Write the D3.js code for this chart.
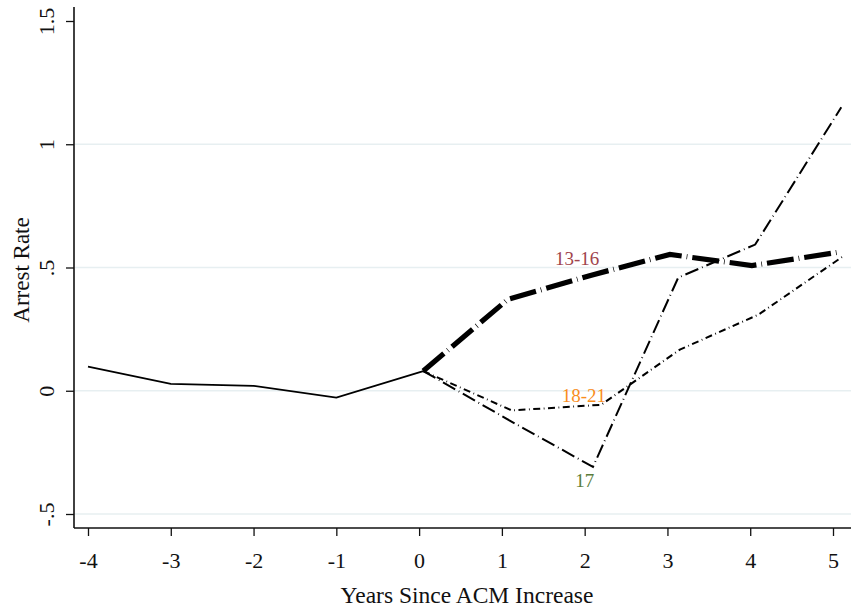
<!DOCTYPE html>
<html>
<head>
<meta charset="utf-8">
<script src="https://cdn.jsdelivr.net/npm/d3@7"></script>
<style>
  html, body { margin: 0; padding: 0; background: #fff; }
  svg { display: block; }
  text { font-family: "Palatino Linotype", "Book Antiqua", Palatino, "Liberation Serif", serif; fill: #111; }
</style>
</head>
<body>
<svg id="chart" width="851" height="608"></svg>
<script>
// Pre-period (common to all age groups)
const preYears = [-4, -3, -2, -1, 0.05];
const preRate  = [0.098, 0.028, 0.020, -0.028, 0.080];

// Post-period by age group
const years1316 = [0.05, 1.07, 2.07, 3.03, 4.02, 5.05];
const rate1316  = [0.080, 0.370, 0.468, 0.553, 0.508, 0.561];

const years17 = [0.05, 1.10, 2.10, 3.13, 4.06, 5.10];
const rate17  = [0.080, -0.122, -0.309, 0.459, 0.593, 1.150];

const years1821 = [0.05, 1.12, 2.20, 3.15, 4.10, 5.12];
const rate1821  = [0.080, -0.080, -0.057, 0.167, 0.309, 0.545];

const xTicks = [-4, -3, -2, -1, 0, 1, 2, 3, 4, 5];
const yTicks = [-0.5, 0, 0.5, 1, 1.5];
const yTickLabels = ["-.5", "0", ".5", "1", "1.5"];
const gridValues = [-0.5, 0, 0.5, 1];

const groupNames  = ["13-16", "17", "18-21"];
const groupColors = ["#a0444c", "#5b7d3a", "#f98e1d"];

const svg = d3.select("#chart");

const x = d3.scaleLinear().domain([-4, 5]).range([88, 833]);
const y = d3.scaleLinear().domain([-0.5, 1.5]).range([514, 21]);

const plotLeft = 74, plotRight = 851, plotTop = 7, plotBottom = 528;

// gridlines
svg.append("g").selectAll("line").data(gridValues).join("line")
  .attr("x1", plotLeft + 1).attr("x2", plotRight)
  .attr("y1", d => y(d)).attr("y2", d => y(d))
  .attr("stroke", "#e7eff1").attr("stroke-width", 1.5);

// axes
const xAxis = d3.axisBottom(x).tickValues(xTicks).tickSize(8).tickPadding(16)
  .tickFormat(d => d < 0 ? "-" + Math.abs(d) : String(d));
const gx = svg.append("g").attr("transform", `translate(0,${plotBottom})`).call(xAxis);
gx.select(".domain").remove();
gx.append("line").attr("x1", plotLeft).attr("x2", plotRight).attr("y1", 0).attr("y2", 0)
  .attr("stroke", "#111").attr("stroke-width", 1.6);
gx.selectAll(".tick line").attr("stroke", "#111").attr("stroke-width", 1.3);
gx.selectAll(".tick text").attr("font-size", 22).attr("fill", "#111")
  .attr("font-family", null);

const yAxis = d3.axisLeft(y).tickValues(yTicks).tickSize(8)
  .tickFormat((d, i) => yTickLabels[i]);
const gy = svg.append("g").attr("transform", `translate(${plotLeft},0)`).call(yAxis);
gy.select(".domain").remove();
gy.append("line").attr("x1", 0).attr("x2", 0).attr("y1", plotTop).attr("y2", plotBottom)
  .attr("stroke", "#111").attr("stroke-width", 1.6);
gy.selectAll(".tick line").attr("stroke", "#111").attr("stroke-width", 1.3);
gy.selectAll(".tick text")
  .attr("font-size", 22).attr("fill", "#111").attr("font-family", null)
  .attr("x", null).attr("dy", null)
  .attr("text-anchor", "middle")
  .attr("transform", "translate(-20,0) rotate(-90)");

// axis titles
svg.append("text").attr("x", 467).attr("y", 603).attr("text-anchor", "middle")
  .attr("font-size", 23.5).text("Years Since ACM Increase");
svg.append("text").attr("transform", "translate(29,270) rotate(-90)")
  .attr("text-anchor", "middle").attr("font-size", 23).text("Arrest Rate");

// series lines
const line = d3.line().x(d => x(d[0])).y(d => y(d[1]));
const zip = (a, b) => a.map((v, i) => [v, b[i]]);

svg.append("path").datum(zip(preYears, preRate)).attr("d", line)
  .attr("fill", "none").attr("stroke", "#000").attr("stroke-width", 1.8);

svg.append("path").datum(zip(years1821, rate1821)).attr("d", line)
  .attr("fill", "none").attr("stroke", "#000").attr("stroke-width", 2)
  .attr("stroke-dasharray", "7,3.5,0.8,3.5");

svg.append("path").datum(zip(years17, rate17)).attr("d", line)
  .attr("fill", "none").attr("stroke", "#000").attr("stroke-width", 2)
  .attr("stroke-dasharray", "14,4,0.8,4");

svg.append("path").datum(zip(years1316, rate1316)).attr("d", line)
  .attr("fill", "none").attr("stroke", "#000").attr("stroke-width", 5.2)
  .attr("stroke-dasharray", "27,5,0.7,5");

// group labels near year 2
const labelPos = [[1.91, 0.512], [2.0, -0.39], [1.99, -0.045]];
svg.append("g").selectAll("text").data(groupNames).join("text")
  .attr("x", (d, i) => x(labelPos[i][0]))
  .attr("y", (d, i) => y(labelPos[i][1]))
  .attr("text-anchor", "middle")
  .attr("font-size", 19)
  .style("fill", (d, i) => groupColors[i])
  .text(d => d);
</script>
</body>
</html>
